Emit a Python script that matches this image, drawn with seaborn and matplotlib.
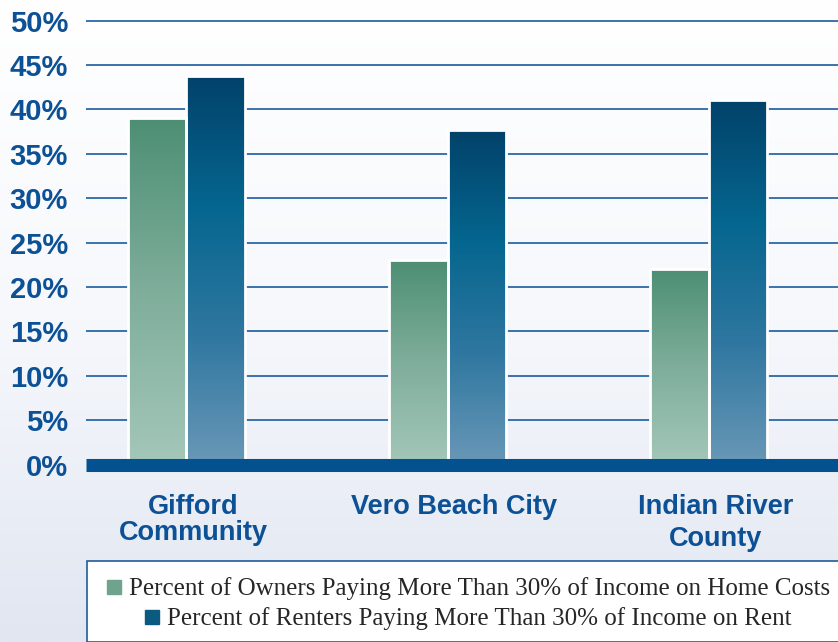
import matplotlib
matplotlib.use("Agg")
import matplotlib.pyplot as plt
import matplotlib.transforms as mtransforms
import numpy as np
import pandas as pd
import seaborn as sns
from matplotlib.colors import LinearSegmentedColormap
from matplotlib.lines import Line2D
from matplotlib.patches import Rectangle

places = ["Gifford\nCommunity", "Vero Beach City", "Indian River\nCounty"]
owners = [39.0, 23.0, 22.0]
renters = [43.7, 37.7, 41.1]
series = ["Percent of Owners Paying More Than 30% of Income on Home Costs",
          "Percent of Renters Paying More Than 30% of Income on Rent"]
yticks = [0, 5, 10, 15, 20, 25, 30, 35, 40, 45, 50]

df = pd.DataFrame({
    "place": places * 2,
    "pct": owners + renters,
    "group": [series[0]] * 3 + [series[1]] * 3,
})

sns.set_style("white")
label_blue = "#0c5196"

fig = plt.figure(figsize=(8.38, 6.42), dpi=100)

# soft background gradient
bg = fig.add_axes([0, 0, 1, 1], zorder=-10)
bg_cmap = LinearSegmentedColormap.from_list("bg", ["#ffffff", "#f6f8fc", "#e1e6f1"])
bg.imshow(np.linspace(0, 1, 256).reshape(-1, 1), aspect="auto", cmap=bg_cmap,
          extent=[0, 1, 0, 1], origin="upper")
bg.axis("off")

ax = fig.add_axes([86 / 838, 0.2654, 752 / 838, 0.7165])
ax.set_facecolor("none")

sns.barplot(data=df, x="place", y="pct", hue="group", order=places,
            hue_order=series, palette=["#6fa38e", "#0b5a80"], width=0.45,
            edgecolor="white", linewidth=2.0, legend=False, ax=ax, zorder=3)

# vertical gradients on the bars
grads = [
    LinearSegmentedColormap.from_list("g", ["#a4c7b9", "#7fae9b", "#4d8f74"]),
    LinearSegmentedColormap.from_list("b", ["#6a98b7", "#2f77a0", "#05668f", "#02426a"]),
]
ramp = np.linspace(0, 1, 256).reshape(-1, 1)
for cont, cmap in zip(ax.containers, grads):
    for bar in cont:
        x, w, h = bar.get_x(), bar.get_width(), bar.get_height()
        im = ax.imshow(ramp, cmap=cmap, aspect="auto", origin="lower",
                       extent=[x, x + w, 0, h], zorder=2.9)
        im.set_clip_path(bar)
        bar.set_facecolor("none")

for v in yticks[1:]:
    ax.axhline(v, color="#2c68a5", lw=1.3, zorder=1)
ax.axhline(0, color="#04518f", lw=9.4, zorder=4, clip_on=False,
           solid_capstyle="butt")

ax.set_xlim(-0.385, 2.496)
ax.set_ylim(-0.8, 51)
ax.set_yticks(yticks)
ax.set_yticklabels([f"{v}%" for v in yticks], fontsize=21, fontweight="bold",
                   color=label_blue, family="Liberation Sans")
ax.tick_params(axis="y", length=0, pad=13)
ax.tick_params(axis="x", length=0, pad=16)
ax.set_xticks(range(len(places)))
ax.set_xticklabels(places, fontsize=19.5, fontweight="bold", color=label_blue,
                   family="Liberation Sans")
shift = mtransforms.ScaledTranslation(0.07, 0, fig.dpi_scale_trans)
for lbl, ls in zip(ax.get_xticklabels(), [1.0, 1.0, 1.3]):
    lbl.set_linespacing(ls)
    lbl.set_transform(lbl.get_transform() + shift)
ax.set_xlabel("")
ax.set_ylabel("")
sns.despine(ax=ax, left=True, bottom=True)

# legend box along the bottom
fig.patches.append(Rectangle((87 / 838, 0), 1.0, (642 - 561) / 642,
                             transform=fig.transFigure, facecolor="white",
                             edgecolor="#1f5c9c", lw=1.2, zorder=5))
for txt, col, yc in zip(series, ["#6fa38e", "#0b5a80"], [589, 619]):
    h = Line2D([], [], marker="s", ls="", color=col, markersize=10)
    lg = fig.legend([h], [txt], loc="center", bbox_to_anchor=(468 / 838, 1 - yc / 642),
                    frameon=False, handlelength=0.6, handletextpad=0.3,
                    borderpad=0, prop={"family": "Liberation Serif", "size": 18.0})
    lg.set_zorder(6)

fig.savefig("out.png", dpi=100)
